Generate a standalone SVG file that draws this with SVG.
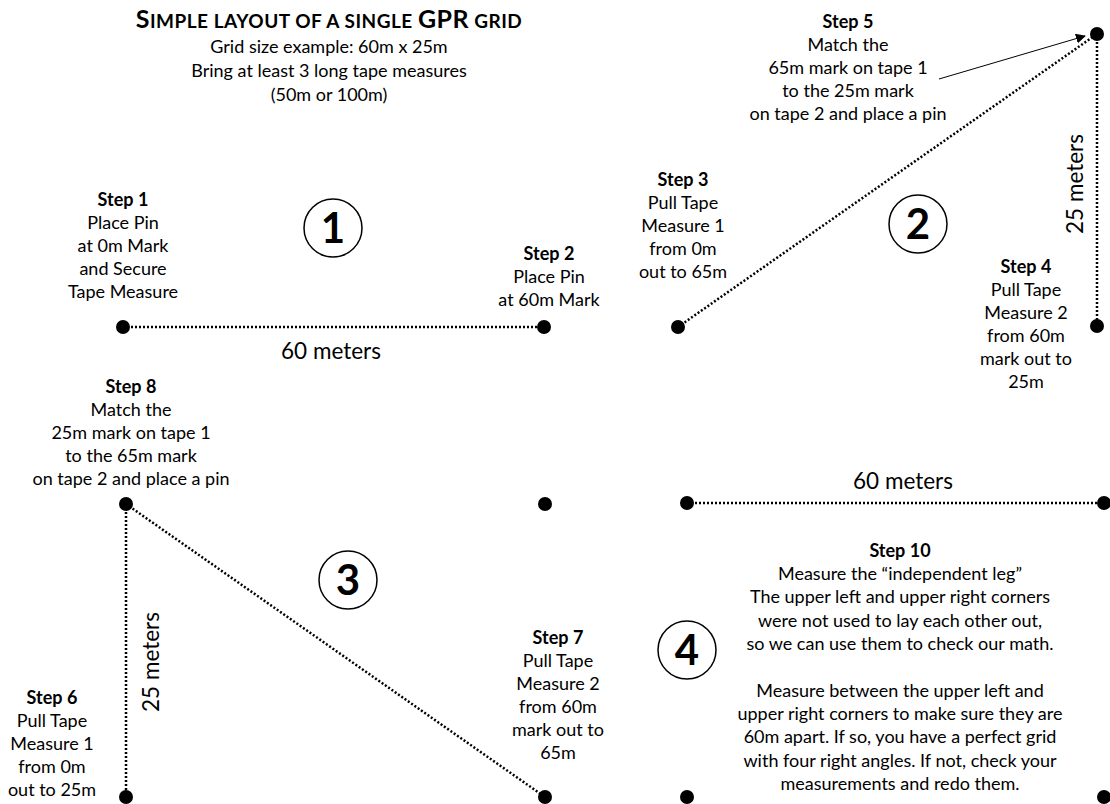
<svg xmlns="http://www.w3.org/2000/svg" width="1110" height="804" viewBox="0 0 1110 804">
<style>
text{font-family:Lato,"Liberation Sans",sans-serif;fill:#000;text-anchor:middle}
.t{font-size:18px}
.b{font-weight:bold}
.m{font-size:22.5px}
.num{font-size:42px;font-weight:bold}
.dot{fill:#000}
.dl{stroke:#000;stroke-width:2.5;stroke-dasharray:2 2;fill:none}
.ring{fill:none;stroke:#000;stroke-width:1.5}
</style>
<defs>
<marker id="ah" viewBox="0 0 10 10" refX="9" refY="5" markerWidth="10" markerHeight="10" markerUnits="userSpaceOnUse" orient="auto">
<path d="M0,0 L10,5 L0,10 z" fill="#000"/>
</marker>
</defs>
<g id="title">
<text x="329" y="28" class="b" font-size="19" letter-spacing="0.5"><tspan font-size="25">S</tspan>IMPLE LAYOUT OF A SINGLE <tspan font-size="25">GPR</tspan> GRID</text>
<text x="329" y="53" class="t">Grid size example: 60m x 25m</text>
<text x="329" y="77" class="t">Bring at least 3 long tape measures</text>
<text x="329" y="101" class="t">(50m or 100m)</text>
</g>
<g id="connectors">
<line class="dl" x1="123" y1="327" x2="544" y2="327"/>
<line class="dl" x1="678" y1="327" x2="1097" y2="34"/>
<line class="dl" x1="1097" y1="34" x2="1097" y2="327"/>
<line x1="939" y1="79" x2="1085" y2="36" stroke="#000" stroke-width="1" marker-end="url(#ah)"/>
<line class="dl" x1="126" y1="504" x2="126" y2="797"/>
<line class="dl" x1="126" y1="504" x2="545" y2="797"/>
<line class="dl" x1="687" y1="503" x2="1104" y2="503"/>
</g>
<g id="pins">
<circle class="dot" cx="123" cy="327" r="7"/>
<circle class="dot" cx="544" cy="327" r="7"/>
<circle class="dot" cx="678" cy="327" r="7"/>
<circle class="dot" cx="1097" cy="34" r="7"/>
<circle class="dot" cx="1097" cy="326" r="7"/>
<circle class="dot" cx="126" cy="504" r="7"/>
<circle class="dot" cx="545" cy="504" r="7"/>
<circle class="dot" cx="126" cy="797" r="7"/>
<circle class="dot" cx="545" cy="797" r="7"/>
<circle class="dot" cx="687" cy="503" r="7"/>
<circle class="dot" cx="1104" cy="503" r="7"/>
<circle class="dot" cx="687" cy="797" r="7"/>
<circle class="dot" cx="1104" cy="797" r="7"/>
</g>
<g id="badge1"><circle class="ring" cx="333" cy="228" r="29"/><text x="333" y="243" class="num">1</text></g>
<g id="badge2"><circle class="ring" cx="918" cy="224" r="29"/><text x="918" y="239" class="num">2</text></g>
<g id="badge3"><circle class="ring" cx="348" cy="580" r="29"/><text x="348" y="595" class="num">3</text></g>
<g id="badge4"><circle class="ring" cx="687" cy="650" r="29"/><text x="687" y="665" class="num">4</text></g>
<g id="labels">
<text x="331" y="359" class="m">60 meters</text>
<text x="903" y="489" class="m">60 meters</text>
<text class="m" transform="translate(1083,184) rotate(-90)">25 meters</text>
<text class="m" transform="translate(159,662) rotate(-90)">25 meters</text>
</g>
<g id="step1">
<text x="123" y="206" class="t b">Step 1</text>
<text x="123" y="229" class="t">Place Pin</text>
<text x="123" y="252" class="t">at 0m Mark</text>
<text x="123" y="275" class="t">and Secure</text>
<text x="123" y="298" class="t">Tape Measure</text>
</g>
<g id="step2">
<text x="549" y="260" class="t b">Step 2</text>
<text x="549" y="283" class="t">Place Pin</text>
<text x="549" y="306" class="t">at 60m Mark</text>
</g>
<g id="step3">
<text x="683" y="186" class="t b">Step 3</text>
<text x="683" y="209" class="t">Pull Tape</text>
<text x="683" y="232" class="t">Measure 1</text>
<text x="683" y="255" class="t">from 0m</text>
<text x="683" y="278" class="t">out to 65m</text>
</g>
<g id="step4">
<text x="1026" y="273" class="t b">Step 4</text>
<text x="1026" y="296" class="t">Pull Tape</text>
<text x="1026" y="319" class="t">Measure 2</text>
<text x="1026" y="342" class="t">from 60m</text>
<text x="1026" y="365" class="t">mark out to</text>
<text x="1026" y="388" class="t">25m</text>
</g>
<g id="step5">
<text x="848" y="28" class="t b">Step 5</text>
<text x="848" y="51" class="t">Match the</text>
<text x="848" y="74" class="t">65m mark on tape 1</text>
<text x="848" y="97" class="t">to the 25m mark</text>
<text x="848" y="120" class="t">on tape 2 and place a pin</text>
</g>
<g id="step6">
<text x="52" y="704" class="t b">Step 6</text>
<text x="52" y="727" class="t">Pull Tape</text>
<text x="52" y="750" class="t">Measure 1</text>
<text x="52" y="773" class="t">from 0m</text>
<text x="52" y="796" class="t">out to 25m</text>
</g>
<g id="step7">
<text x="558" y="644" class="t b">Step 7</text>
<text x="558" y="667" class="t">Pull Tape</text>
<text x="558" y="690" class="t">Measure 2</text>
<text x="558" y="713" class="t">from 60m</text>
<text x="558" y="736" class="t">mark out to</text>
<text x="558" y="759" class="t">65m</text>
</g>
<g id="step8">
<text x="131" y="393" class="t b">Step 8</text>
<text x="131" y="416" class="t">Match the</text>
<text x="131" y="439" class="t">25m mark on tape 1</text>
<text x="131" y="462" class="t">to the 65m mark</text>
<text x="131" y="485" class="t">on tape 2 and place a pin</text>
</g>
<g id="step10">
<text x="900" y="557" class="t b">Step 10</text>
<text x="900" y="580" class="t">Measure the “independent leg”</text>
<text x="900" y="603" class="t">The upper left and upper right corners</text>
<text x="900" y="627" class="t">were not used to lay each other out,</text>
<text x="900" y="650" class="t">so we can use them to check our math.</text>
<text x="900" y="697" class="t">Measure between the upper left and</text>
<text x="900" y="720" class="t">upper right corners to make sure they are</text>
<text x="900" y="743" class="t">60m apart. If so, you have a perfect grid</text>
<text x="900" y="767" class="t">with four right angles. If not, check your</text>
<text x="900" y="790" class="t">measurements and redo them.</text>
</g>
</svg>
